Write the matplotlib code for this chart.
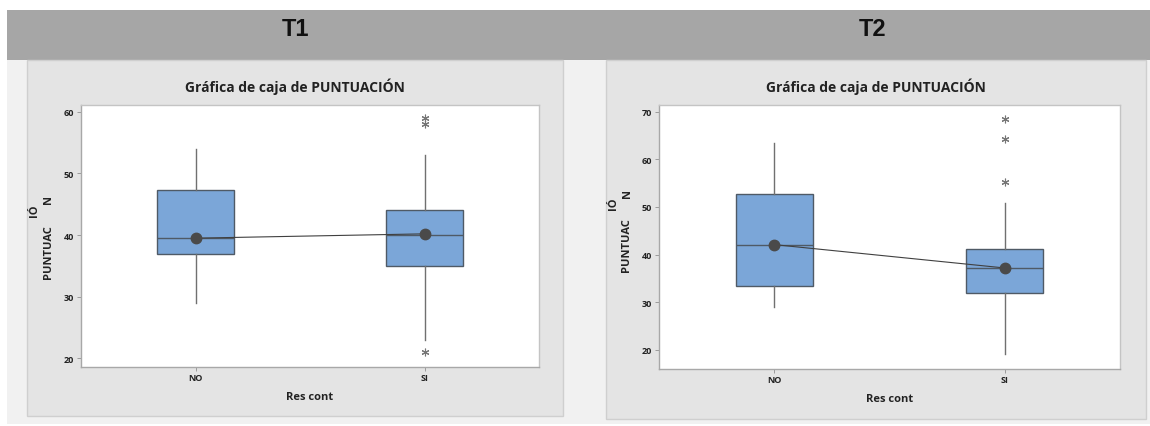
import matplotlib
matplotlib.use("Agg")
import matplotlib.pyplot as plt
from matplotlib.patches import Rectangle

plt.rcParams['font.family'] = ['Open Sans', 'DejaVu Sans']

# data
categories = ['NO', 'SI']

t1_q1 = [37.0, 35.0]
t1_med = [39.5, 40.0]
t1_q3 = [47.3, 44.0]
t1_lo = [29.0, 23.0]
t1_hi = [54.0, 53.0]
t1_mean = [39.5, 40.2]
t1_out = [[], [21, 58, 59]]

t2_q1 = [33.5, 31.9]
t2_med = [42.1, 37.1]
t2_q3 = [52.8, 41.1]
t2_lo = [29.1, 19.1]
t2_hi = [63.4, 50.9]
t2_mean = [42.1, 37.2]
t2_out = [[], [55.3, 64.3, 68.5]]

W, H = 1150, 427
fig = plt.figure(figsize=(W / 100, H / 100), dpi=100)


def px_rect(x0, y0, x1, y1, fc, ec='none', lw=0):
    # pixel box (top-left origin) -> figure rectangle
    r = Rectangle((x0 / W, 1 - y1 / H), (x1 - x0) / W, (y1 - y0) / H,
                  transform=fig.transFigure, facecolor=fc, edgecolor=ec,
                  linewidth=lw, zorder=-5)
    fig.patches.append(r)


def px_ax(x0, y0, x1, y1):
    return fig.add_axes([x0 / W, 1 - y1 / H, (x1 - x0) / W, (y1 - y0) / H])


# backgrounds
px_rect(7, 61, 1150, 425, '#f1f1f1')
px_rect(7, 11, 1150, 61, '#a6a6a6')
px_rect(27, 61, 563, 417, '#e4e4e4', '#cfcfcf', 1)
px_rect(606, 61, 1146, 420, '#e4e4e4', '#cfcfcf', 1)

fig.text(295 / W, 1 - 30 / H, 'T1', ha='center', va='center', fontsize=17,
         fontweight='bold', family='Liberation Sans', color='#111111')
fig.text(873 / W, 1 - 30 / H, 'T2', ha='center', va='center', fontsize=17,
         fontweight='bold', family='Liberation Sans', color='#111111')


def draw(ax, q1, med, q3, lo, hi, mean, out, ylim, yticks, cx, ylab_x, ylab_y):
    stats = []
    for i in range(len(categories)):
        stats.append(dict(label=categories[i], q1=q1[i], med=med[i], q3=q3[i],
                          whislo=lo[i], whishi=hi[i], fliers=out[i]))
    pos = [1, 2]
    ax.bxp(stats, positions=pos, widths=0.335, patch_artist=True, showcaps=False,
           boxprops=dict(facecolor='#7ba6d8', edgecolor='#4f5a66', linewidth=1.0),
           medianprops=dict(color='#4f5a66', linewidth=1.0),
           whiskerprops=dict(color='#707070', linewidth=1.0),
           flierprops=dict(marker=(6, 2, 0), markersize=5.5, markeredgecolor='#767676',
                           markerfacecolor='none', linestyle='none', markeredgewidth=0.8))
    ax.plot(pos, mean, '-', color='#404040', linewidth=0.8, marker='o',
            markersize=7.5, markerfacecolor='#4a4a4a', markeredgecolor='#4a4a4a', zorder=5)
    ax.set_xlim(0.5, 2.5)
    ax.set_ylim(*ylim)
    ax.set_yticks(yticks)
    ax.set_xticks(pos)
    ax.set_xticklabels(categories)
    ax.set_facecolor('white')
    for side, s in ax.spines.items():
        s.set_color('#a8a8a8' if side in ('left', 'bottom') else '#c4c4c4')
        s.set_linewidth(1.0)
    ax.tick_params(axis='both', length=3, width=0.6, color='#909090',
                   labelsize=6.5, labelcolor='#222222', pad=2)
    ax.tick_params(axis='x', pad=1.5)
    for lab in ax.get_xticklabels() + ax.get_yticklabels():
        lab.set_fontweight('bold')
    ax.set_xlabel('Res cont', fontsize=8, fontweight='bold', color='#222222', labelpad=6)
    fig.text(cx / W, 1 - 87 / H, 'Gráfica de caja de PUNTUACIÓN', ha='center', va='center',
             fontsize=10, fontweight='bold', color='#222222')
    # broken y label as in the source image
    fig.text(ylab_x / W, 1 - ylab_y / H, 'PUNTUAC', rotation=90, ha='center', va='center',
             fontsize=8, fontweight='bold', color='#222222')
    fig.text((ylab_x - 13) / W, 1 - (ylab_y - 41) / H, 'IÓ', rotation=90, ha='center',
             va='center', fontsize=8, fontweight='bold', color='#222222')
    fig.text((ylab_x + 1) / W, 1 - (ylab_y - 52) / H, 'N', rotation=90, ha='center',
             va='center', fontsize=8, fontweight='bold', color='#222222')


ax1 = px_ax(81, 106, 539, 368)
draw(ax1, t1_q1, t1_med, t1_q3, t1_lo, t1_hi, t1_mean, t1_out,
     (18.6, 61.1), [20, 30, 40, 50, 60], 295, 48, 252)

ax2 = px_ax(659, 106, 1120, 370)
draw(ax2, t2_q1, t2_med, t2_q3, t2_lo, t2_hi, t2_mean, t2_out,
     (16.0, 71.4), [20, 30, 40, 50, 60, 70], 876, 626, 245)

fig.savefig('out.png', dpi=100)
